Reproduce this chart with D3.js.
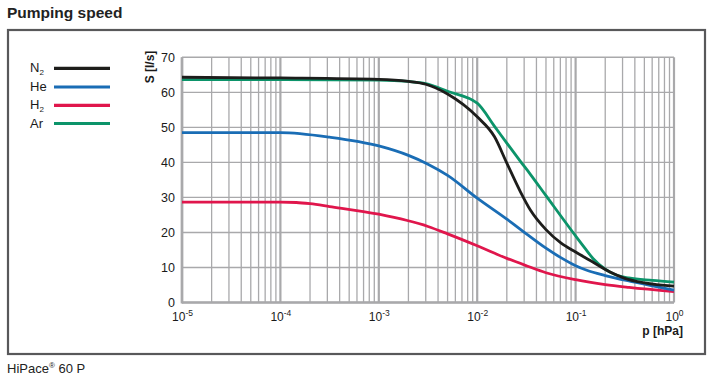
<!DOCTYPE html>
<html>
<head>
<meta charset="utf-8">
<script src="https://cdn.jsdelivr.net/npm/d3@7"></script>
<style>
  body { margin: 0; background: #fff; }
  svg { display: block; font-family: "Liberation Sans", Arial, sans-serif; }
</style>
</head>
<body>
<div id="chart"></div>
<script>
// chart size
const width = 715;
const height = 387;

// data (pressure in hPa, speed in l/s)
const n2P = [1e-5, 1e-4, 1e-3, 2e-3, 3e-3, 5e-3, 1e-2, 1.5e-2, 2e-2, 2.75e-2, 3.47e-2, 5e-2, 7.08e-2, 0.1, 0.141, 0.224, 0.316, 0.5, 1];
const n2S = [64.3, 64.1, 63.7, 63.1, 62.3, 59.5, 53.0, 47.3, 39.8, 31.6, 26.4, 20.8, 17.0, 14.4, 12.0, 8.7, 6.9, 5.6, 4.7];

const heP = [1e-5, 1e-4, 3.16e-4, 1e-3, 2e-3, 3.16e-3, 5e-3, 1e-2, 2e-2, 3.16e-2, 5e-2, 7.08e-2, 0.1, 0.13, 0.2, 0.4, 1];
const heS = [48.5, 48.5, 47.2, 44.7, 42.0, 39.5, 36.3, 29.8, 23.8, 19.6, 15.5, 12.8, 10.5, 9.2, 7.7, 5.8, 3.5];

const h2P = [1e-5, 1e-4, 1.45e-4, 2e-4, 3.16e-4, 1e-3, 3.16e-3, 5e-3, 1e-2, 2e-2, 3.16e-2, 5e-2, 0.1, 0.2, 0.35, 1];
const h2S = [28.65, 28.65, 28.55, 28.2, 27.4, 25.2, 21.7, 19.6, 16.2, 12.6, 10.5, 8.5, 6.5, 5.1, 4.3, 3.1];

const arP = [1e-5, 1e-4, 1e-3, 2e-3, 3e-3, 5e-3, 1e-2, 1.5e-2, 2e-2, 2.75e-2, 3.47e-2, 5e-2, 0.1, 0.126, 0.151, 0.2, 0.251, 0.347, 0.603, 1];
const arS = [63.6, 63.6, 63.5, 63.1, 62.5, 60.3, 56.9, 50.3, 45.5, 40.3, 36.6, 30.5, 19.0, 15.3, 12.5, 9.5, 8.0, 7.0, 6.3, 5.8];

const yTicks = [0, 10, 20, 30, 40, 50, 60, 70];
const xTicks = [1e-5, 1e-4, 1e-3, 1e-2, 1e-1, 1];
const xTickExp = ["-5", "-4", "-3", "-2", "-1", "0"];

const series = [
  { name: "N", sub: "2", p: n2P, s: n2S, color: "#1d1d1b" },
  { name: "He", sub: "", p: heP, s: heS, color: "#1a6db5" },
  { name: "H", sub: "2", p: h2P, s: h2S, color: "#e0164c" },
  { name: "Ar", sub: "", p: arP, s: arS, color: "#0c946a" }
];

const svg = d3.select("#chart")
              .append("svg")
              .attr("width", width)
              .attr("height", height);

// title and frame
svg.append("text")
   .attr("x", 7)
   .attr("y", 18)
   .attr("font-size", 15.5)
   .attr("font-weight", "bold")
   .attr("fill", "#222")
   .text("Pumping speed");

svg.append("rect")
   .attr("x", 8)
   .attr("y", 30)
   .attr("width", 697)
   .attr("height", 324)
   .attr("fill", "none")
   .attr("stroke", "#58585a")
   .attr("stroke-width", 2.2);

const footer = svg.append("text")
                  .attr("x", 7)
                  .attr("y", 373)
                  .attr("font-size", 13)
                  .attr("fill", "#222");
footer.append("tspan").text("HiPace");
footer.append("tspan").attr("font-size", 8).attr("dy", -5).text("®");
footer.append("tspan").attr("dy", 5).text(" 60 P");

// scales
const x = d3.scaleLog().domain([1e-5, 1]).range([182, 674]);
const y = d3.scaleLinear().domain([0, 70]).range([302.5, 57.3]);

// grid
const grid = svg.append("g").attr("stroke", "#a9a9ab").attr("fill", "none");

const allXTicks = x.ticks();
grid.selectAll("line.v")
    .data(allXTicks)
    .enter().append("line")
    .attr("x1", d => x(d))
    .attr("x2", d => x(d))
    .attr("y1", y(0))
    .attr("y2", y(70))
    .attr("stroke-width", d => xTicks.some(t => Math.abs(t - d) / t < 1e-6) ? 2.2 : 1.3);

grid.selectAll("line.h")
    .data(yTicks)
    .enter().append("line")
    .attr("x1", x(1e-5))
    .attr("x2", x(1))
    .attr("y1", d => y(d))
    .attr("y2", d => y(d))
    .attr("stroke-width", 1.4);

// heavier left and bottom axis lines
grid.append("line")
    .attr("x1", x(1e-5)).attr("x2", x(1e-5))
    .attr("y1", y(0) + 1).attr("y2", y(70))
    .attr("stroke-width", 2.6);
grid.append("line")
    .attr("x1", x(1e-5)).attr("x2", x(1))
    .attr("y1", y(0)).attr("y2", y(0))
    .attr("stroke-width", 2.6);

// y axis labels
const yAxis = svg.append("g")
                 .attr("transform", `translate(${x(1e-5)},0)`)
                 .call(d3.axisLeft(y).tickValues(yTicks).tickSize(0).tickPadding(7));
yAxis.select(".domain").remove();
yAxis.selectAll("text")
     .attr("font-size", 12.5)
     .attr("font-family", "Liberation Sans, Arial, sans-serif")
     .attr("fill", "#1a1a1a");

// x axis labels with superscript exponent
const xAxis = svg.append("g")
                 .attr("transform", `translate(0,${y(0)})`)
                 .call(d3.axisBottom(x).tickValues(xTicks).tickSize(0).tickPadding(0).tickFormat(() => ""));
xAxis.select(".domain").remove();
xAxis.selectAll(".tick text")
     .attr("y", 18)
     .attr("dy", 0)
     .attr("font-size", 12)
     .attr("font-family", "Liberation Sans, Arial, sans-serif")
     .attr("fill", "#1a1a1a")
     .each(function(d, i) {
         const t = d3.select(this);
         t.append("tspan").text("10");
         t.append("tspan").attr("font-size", 8.5).attr("dy", -5).text(xTickExp[i]);
     });

// axis titles
svg.append("text")
   .attr("transform", "translate(154,67) rotate(-90)")
   .attr("text-anchor", "middle")
   .attr("font-size", 12)
   .attr("font-weight", "bold")
   .attr("fill", "#1a1a1a")
   .text("S [l/s]");

svg.append("text")
   .attr("x", 683)
   .attr("y", 335)
   .attr("text-anchor", "end")
   .attr("font-size", 12)
   .attr("font-weight", "bold")
   .attr("fill", "#1a1a1a")
   .text("p [hPa]");

// curves
const line = d3.line()
               .x(d => x(d[0]))
               .y(d => y(d[1]))
               .curve(d3.curveMonotoneX);

// draw Ar first so N2 sits on top where they overlap
const drawOrder = [series[3], series[2], series[1], series[0]];
svg.append("g")
   .selectAll("path")
   .data(drawOrder)
   .enter().append("path")
   .attr("fill", "none")
   .attr("stroke", d => d.color)
   .attr("stroke-width", 2.8)
   .attr("stroke-linejoin", "round")
   .attr("d", d => line(d.p.map((p, i) => [p, d.s[i]])));

// legend
const legendY = [68.3, 87, 105.3, 123.5];
const legend = svg.append("g")
                  .selectAll("g")
                  .data(series)
                  .enter().append("g")
                  .attr("transform", (d, i) => `translate(0,${legendY[i]})`);

legend.append("line")
      .attr("x1", 54)
      .attr("x2", 110)
      .attr("stroke", d => d.color)
      .attr("stroke-width", 3.2);

const legendText = legend.append("text")
                         .attr("x", 30)
                         .attr("y", 4)
                         .attr("font-size", 13)
                         .attr("fill", "#1a1a1a");
legendText.append("tspan").text(d => d.name);
legendText.append("tspan")
          .attr("font-size", 8)
          .attr("dy", 3)
          .text(d => d.sub);
</script>
</body>
</html>
